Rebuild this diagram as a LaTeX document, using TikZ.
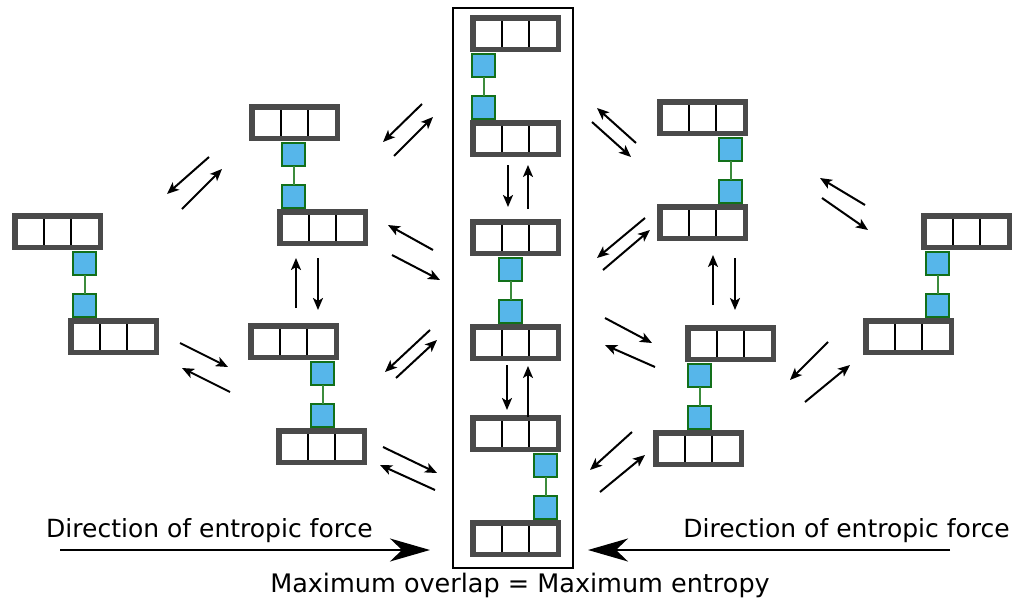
\documentclass[tikz,border=0pt]{standalone}
\usepackage{fontspec}
\setmainfont{DejaVu Sans}
\usetikzlibrary{arrows.meta}
\definecolor{bargray}{HTML}{4A4A4A}
\definecolor{sqblue}{HTML}{56B6EA}
\definecolor{sqgreen}{HTML}{12701A}
\definecolor{linkgreen}{HTML}{3C8C3C}
\tikzset{
 barbox/.style={draw=bargray, fill=white, line width=5.5pt, minimum width=85.5pt, minimum height=31.5pt, inner sep=0pt, outer sep=0pt,
   path picture={\draw[black,line width=1.6pt]
     ([xshift=-13.4pt]path picture bounding box.north) -- ([xshift=-13.4pt]path picture bounding box.south)
     ([xshift=13.4pt]path picture bounding box.north) -- ([xshift=13.4pt]path picture bounding box.south);}},
 sqbox/.style={draw=sqgreen, fill=sqblue, line width=2.2pt, minimum size=22.8pt, inner sep=0pt, outer sep=0pt},
 link/.style={draw=linkgreen, line width=2pt},
 eqarrow/.style={-{Stealth[length=12pt,width=10pt,inset=3pt]}, line width=2pt, black},
 bigarrow/.style={-{Stealth[length=40pt,width=23pt,inset=12pt]}, line width=2pt, black},
 dirtext/.style={font=\fontsize{25}{30}\selectfont, inner sep=0pt},
 captext/.style={font=\fontsize{25.5}{30}\selectfont, inner sep=0pt},
}
\newcommand\config[5]{%
 \node[sqbox] (#1s1) at (#4+12.5, #3+50.5) {};
 \node[sqbox] (#1s2) at (#4+12.5, #3+92.5) {};
 \draw[link] (#1s1) -- (#1s2);
 \node[barbox] (#1t) at (#2+45.5, #3+18.5) {};
 \node[barbox] (#1b) at (#5+45.5, #3+123.5) {};
}
\newcommand\eqar[3]{\coordinate (#1s) at (#2); \coordinate (#1e) at (#3); \draw[eqarrow] (#1s) -- (#1e);}
\begin{document}
\begin{tikzpicture}[x=1pt,y=-1pt]
\useasboundingbox (0,0) rectangle (1017,605);
\node[draw=black, line width=1.5pt, minimum width=120pt, minimum height=560pt, inner sep=0pt] (frame) at (513,288) {};
% configurations: name, top bar left, top, squares left, bottom bar left
\config{A}{12}{213}{72}{68}
\config{B}{249}{104}{281}{277}
\config{C}{248}{323}{310}{276}
\config{D}{470}{15}{471}{470}
\config{E}{470}{219}{498}{470}
\config{F}{470}{415}{533}{470}
\config{G}{657}{99}{718}{657}
\config{H}{685}{325}{687}{653}
\config{I}{921}{213}{925}{863}
% equilibrium arrows
\eqar{ab1}{209,157}{167,194}
\eqar{ab2}{182,209}{222,169}
\eqar{ac1}{180,343}{228,367}
\eqar{ac2}{230,392}{182,368}
\eqar{bd1}{422,104}{383,142}
\eqar{bd2}{394,156}{433,117}
\eqar{be1}{433,250}{388,225}
\eqar{be2}{392,255}{440,280}
\eqar{ce1}{430,330}{385,372}
\eqar{ce2}{396,378}{437,340}
\eqar{cf1}{383,447}{437,473}
\eqar{cf2}{435,490}{380,465}
\eqar{bc1}{296,308}{296,258}
\eqar{bc2}{318,258}{318,310}
\eqar{de1}{508,165}{508,207}
\eqar{de2}{528,209}{528,165}
\eqar{ef1}{507,365}{507,410}
\eqar{ef2}{528,417}{528,366}
\eqar{dg1}{636,143}{597,108}
\eqar{dg2}{592,122}{631,157}
\eqar{eg1}{645,218}{597,258}
\eqar{eg2}{603,270}{650,230}
\eqar{eh1}{605,318}{652,343}
\eqar{eh2}{655,367}{605,345}
\eqar{fh1}{632,432}{590,470}
\eqar{fh2}{600,492}{645,455}
\eqar{gh1}{713,305}{713,255}
\eqar{gh2}{735,258}{735,310}
\eqar{gi1}{865,205}{820,178}
\eqar{gi2}{822,198}{868,230}
\eqar{hi1}{828,342}{790,380}
\eqar{hi2}{805,402}{850,365}
% big arrows and texts
\node[dirtext, anchor=base west] (ltext) at (46,537) {Direction of entropic force};
\node[dirtext, anchor=base east] (rtext) at (1010,537) {Direction of entropic force};
\node[captext, anchor=base] (btext) at (520,592) {Maximum overlap = Maximum entropy};
\coordinate (lstart) at (60,550);
\coordinate (ltip) at (430,550);
\coordinate (rstart) at (950,550);
\coordinate (rtip) at (588,550);
\draw[bigarrow] (lstart) -- (ltip);
\draw[bigarrow] (rstart) -- (rtip);
\end{tikzpicture}
\end{document}
